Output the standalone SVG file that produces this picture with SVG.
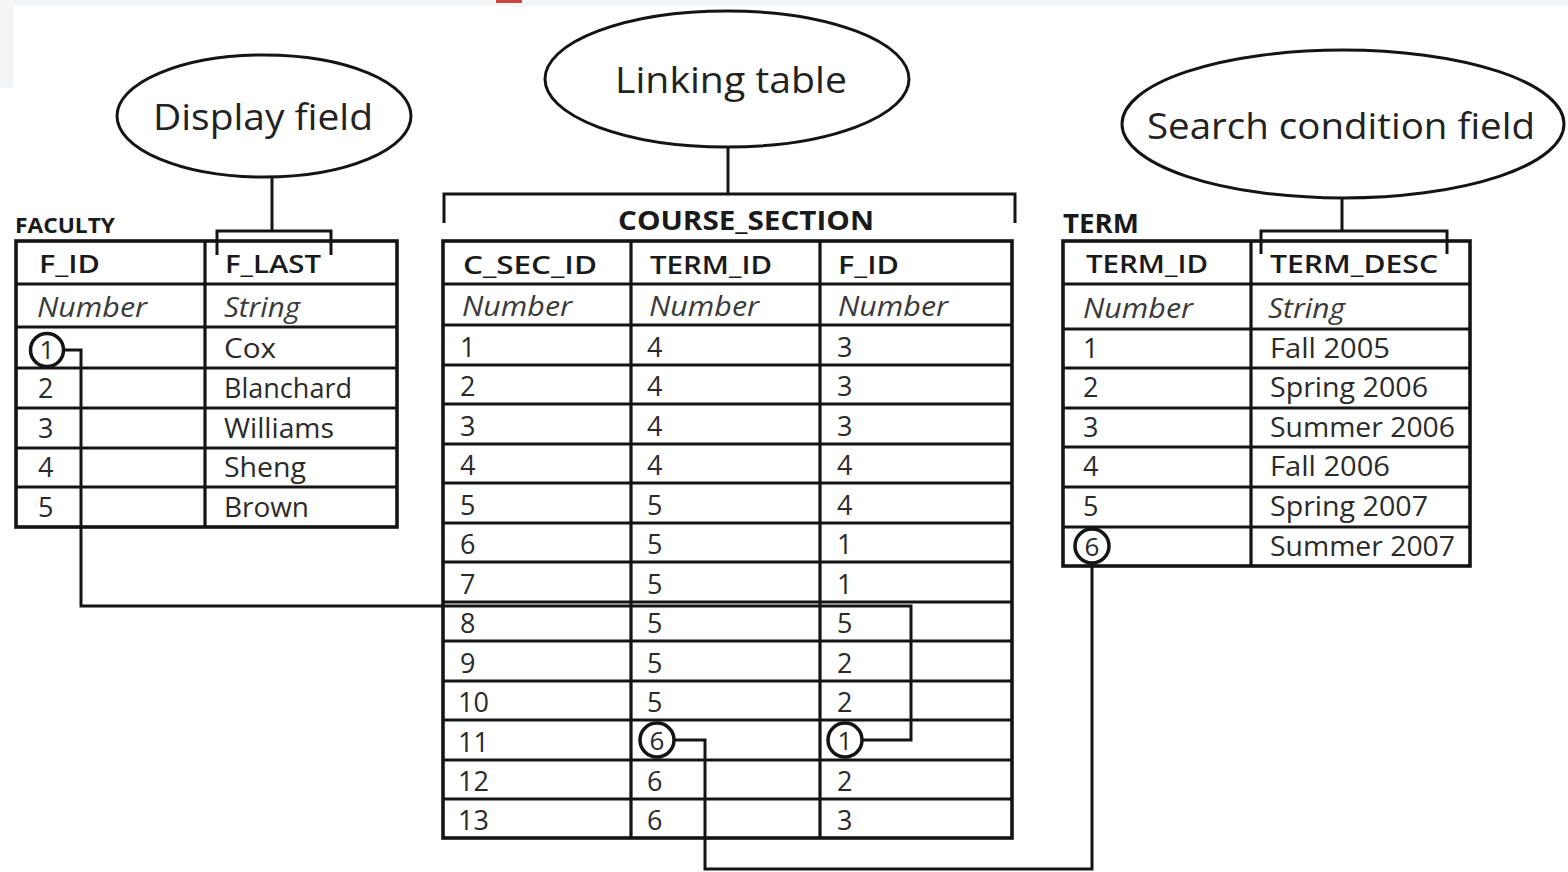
<svg xmlns="http://www.w3.org/2000/svg" width="1568" height="872" viewBox="0 0 1568 872">
  <style>
    .frame { fill: none; stroke: #141414; stroke-width: 3.6; }
    .grid { stroke: #141414; stroke-width: 3.2; fill: none; }
    .bubble { fill: #ffffff; stroke: #141414; stroke-width: 3; }
    .lead { stroke: #141414; stroke-width: 3; fill: none; }
    .wire { stroke: #141414; stroke-width: 3; fill: none; stroke-linejoin: miter; }
    .mark { fill: #ffffff; stroke: #141414; stroke-width: 3.5; }
    .label { font-family: "Open Sans", "Noto Sans", sans-serif; font-size: 36px; fill: #222; }
    .tname { font-family: "Open Sans", "Noto Sans", sans-serif; font-size: 22px; font-weight: 700; fill: #1a1a1a; }
    .head { font-family: "Open Sans", "Noto Sans", sans-serif; font-size: 26px; font-weight: 600; fill: #1a1a1a; }
    .type { font-family: "Open Sans", "Noto Sans", sans-serif; font-size: 27px; font-style: italic; fill: #3a3a3a; }
    .val { font-family: "Open Sans", "Noto Sans", sans-serif; font-size: 27px; fill: #2a2a2a; }
    .cval { font-family: "Open Sans", "Noto Sans", sans-serif; font-size: 26px; fill: #2a2a2a; text-anchor: middle; }
  </style>

  <!-- page -->
  <rect x="0" y="0" width="1568" height="872" fill="#ffffff"/>
  <rect x="0" y="0" width="1568" height="6" fill="#f3f5f7"/>
  <rect x="0" y="0" width="13" height="88" fill="#f3f5f7"/>
  <rect x="496" y="0" width="26" height="3" fill="#c9453f"/>

  <!-- callout: Display field -->
  <g id="display-field">
    <ellipse class="bubble" cx="264" cy="116" rx="147" ry="61"/>
    <text class="label" x="153" y="130" textLength="220" lengthAdjust="spacingAndGlyphs">Display field</text>
    <line class="lead" x1="272" y1="177" x2="272" y2="231"/>
    <polyline class="lead" points="217,255 217,231 331,231 331,255"/>
  </g>

  <!-- callout: Linking table -->
  <g id="linking-table">
    <ellipse class="bubble" cx="727" cy="79" rx="182" ry="68"/>
    <text class="label" x="615" y="93" textLength="232" lengthAdjust="spacingAndGlyphs">Linking table</text>
    <line class="lead" x1="728" y1="147" x2="728" y2="194"/>
    <polyline class="lead" points="444,223 444,194 1015,194 1015,223"/>
  </g>

  <!-- callout: Search condition field -->
  <g id="search-condition-field">
    <ellipse class="bubble" cx="1343" cy="124" rx="221" ry="74"/>
    <text class="label" x="1147" y="139" textLength="388" lengthAdjust="spacingAndGlyphs">Search condition field</text>
    <line class="lead" x1="1342" y1="198" x2="1342" y2="231"/>
    <polyline class="lead" points="1261,254 1261,231 1447,231 1447,254"/>
  </g>

  <!-- FACULTY table -->
  <g id="faculty">
    <text class="tname" x="15" y="233" textLength="100" lengthAdjust="spacingAndGlyphs">FACULTY</text>
    <rect class="frame" x="16" y="241" width="381" height="286"/>
    <path class="grid" d="M205 241V527 M16 284H397 M16 327H397 M16 368H397 M16 408H397 M16 448H397 M16 487H397"/>
    <text class="head" x="39" y="273" textLength="61" lengthAdjust="spacingAndGlyphs">F_ID</text>
    <text class="head" x="225" y="273" textLength="96" lengthAdjust="spacingAndGlyphs">F_LAST</text>
    <text class="type" x="37" y="317" textLength="110" lengthAdjust="spacingAndGlyphs">Number</text>
    <text class="type" x="224" y="317" textLength="76" lengthAdjust="spacingAndGlyphs">String</text>
    <text class="val" x="38" y="398">2</text>
    <text class="val" x="38" y="438">3</text>
    <text class="val" x="38" y="477">4</text>
    <text class="val" x="38" y="517">5</text>
    <text class="val" x="224" y="358" textLength="52" lengthAdjust="spacingAndGlyphs">Cox</text>
    <text class="val" x="224" y="398" textLength="128" lengthAdjust="spacingAndGlyphs">Blanchard</text>
    <text class="val" x="224" y="438" textLength="110" lengthAdjust="spacingAndGlyphs">Williams</text>
    <text class="val" x="224" y="477" textLength="82" lengthAdjust="spacingAndGlyphs">Sheng</text>
    <text class="val" x="224" y="517" textLength="85" lengthAdjust="spacingAndGlyphs">Brown</text>
  </g>

  <!-- COURSE_SECTION table -->
  <g id="course-section">
    <text class="tname" x="618" y="230" textLength="256" lengthAdjust="spacingAndGlyphs" style="font-size:26px">COURSE_SECTION</text>
    <rect class="frame" x="443" y="241" width="569" height="597"/>
    <path class="grid" d="M631 241V838 M820 241V838 M443 284H1012 M443 325H1012 M443 365H1012 M443 404H1012 M443 444H1012 M443 483H1012 M443 523H1012 M443 562H1012 M443 602H1012 M443 641H1012 M443 681H1012 M443 720H1012 M443 760H1012 M443 799H1012"/>
    <text class="head" x="463" y="274" textLength="134" lengthAdjust="spacingAndGlyphs">C_SEC_ID</text>
    <text class="head" x="650" y="274" textLength="122" lengthAdjust="spacingAndGlyphs">TERM_ID</text>
    <text class="head" x="838" y="274" textLength="61" lengthAdjust="spacingAndGlyphs">F_ID</text>
    <text class="type" x="462" y="316" textLength="110" lengthAdjust="spacingAndGlyphs">Number</text>
    <text class="type" x="649" y="316" textLength="110" lengthAdjust="spacingAndGlyphs">Number</text>
    <text class="type" x="838" y="316" textLength="110" lengthAdjust="spacingAndGlyphs">Number</text>

    <g class="val">
      <text x="460" y="357">1</text><text x="647" y="357">4</text><text x="837" y="357">3</text>
      <text x="460" y="396">2</text><text x="647" y="396">4</text><text x="837" y="396">3</text>
      <text x="460" y="436">3</text><text x="647" y="436">4</text><text x="837" y="436">3</text>
      <text x="460" y="475">4</text><text x="647" y="475">4</text><text x="837" y="475">4</text>
      <text x="460" y="515">5</text><text x="647" y="515">5</text><text x="837" y="515">4</text>
      <text x="460" y="554">6</text><text x="647" y="554">5</text><text x="837" y="554">1</text>
      <text x="460" y="594">7</text><text x="647" y="594">5</text><text x="837" y="594">1</text>
      <text x="460" y="633">8</text><text x="647" y="633">5</text><text x="837" y="633">5</text>
      <text x="460" y="673">9</text><text x="647" y="673">5</text><text x="837" y="673">2</text>
      <text x="458" y="712">10</text><text x="647" y="712">5</text><text x="837" y="712">2</text>
      <text x="458" y="752">11</text>
      <text x="458" y="791">12</text><text x="647" y="791">6</text><text x="837" y="791">2</text>
      <text x="458" y="830">13</text><text x="647" y="830">6</text><text x="837" y="830">3</text>
    </g>
  </g>

  <!-- TERM table -->
  <g id="term">
    <text class="tname" x="1063" y="233" textLength="76" lengthAdjust="spacingAndGlyphs" style="font-size:26px">TERM</text>
    <rect class="frame" x="1063" y="241" width="407" height="325"/>
    <path class="grid" d="M1251 241V566 M1063 284H1470 M1063 329H1470 M1063 368H1470 M1063 408H1470 M1063 447H1470 M1063 487H1470 M1063 527H1470"/>
    <text class="head" x="1086" y="273" textLength="122" lengthAdjust="spacingAndGlyphs">TERM_ID</text>
    <text class="head" x="1270" y="273" textLength="168" lengthAdjust="spacingAndGlyphs">TERM_DESC</text>
    <text class="type" x="1083" y="318" textLength="110" lengthAdjust="spacingAndGlyphs">Number</text>
    <text class="type" x="1268" y="318" textLength="77" lengthAdjust="spacingAndGlyphs">String</text>
    <text class="val" x="1083" y="358">1</text>
    <text class="val" x="1083" y="397">2</text>
    <text class="val" x="1083" y="437">3</text>
    <text class="val" x="1083" y="476">4</text>
    <text class="val" x="1083" y="516">5</text>
    <text class="val" x="1270" y="358" textLength="120" lengthAdjust="spacingAndGlyphs">Fall 2005</text>
    <text class="val" x="1270" y="397" textLength="158" lengthAdjust="spacingAndGlyphs">Spring 2006</text>
    <text class="val" x="1270" y="437" textLength="185" lengthAdjust="spacingAndGlyphs">Summer 2006</text>
    <text class="val" x="1270" y="476" textLength="120" lengthAdjust="spacingAndGlyphs">Fall 2006</text>
    <text class="val" x="1270" y="516" textLength="158" lengthAdjust="spacingAndGlyphs">Spring 2007</text>
    <text class="val" x="1270" y="556" textLength="185" lengthAdjust="spacingAndGlyphs">Summer 2007</text>
  </g>

  <!-- join paths between matching key values -->
  <g id="connectors">
    <polyline class="wire" points="64,350 81,350 81,606 911,606 911,740 862,740"/>
    <polyline class="wire" points="1092,563 1092,869 705,869 705,740 674,740"/>
  </g>

  <!-- circled key values -->
  <g id="key-marks">
    <circle class="mark" cx="47" cy="350" r="16.5"/>
    <text class="cval" x="47" y="359">1</text>
    <circle class="mark" cx="657" cy="740" r="17"/>
    <text class="cval" x="657" y="750">6</text>
    <circle class="mark" cx="845" cy="740" r="17"/>
    <text class="cval" x="845" y="750">1</text>
    <circle class="mark" cx="1092" cy="546" r="17"/>
    <text class="cval" x="1092" y="556">6</text>
  </g>
</svg>
